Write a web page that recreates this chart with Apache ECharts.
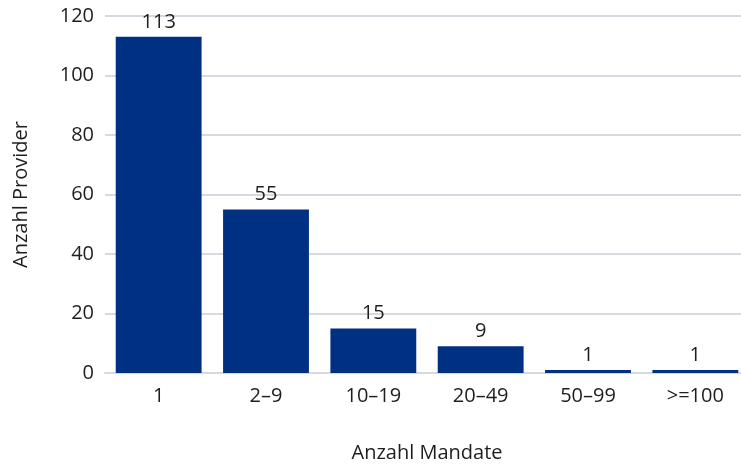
<!DOCTYPE html>
<html>
<head>
<meta charset="utf-8">
<script src="https://cdn.jsdelivr.net/npm/echarts@6/dist/echarts.min.js"></script>
<style>
  html, body { margin: 0; padding: 0; background: #fff; overflow: hidden; }
  #chart { width: 741px; height: 464px; }
</style>
</head>
<body>
<div id="chart"></div>
<script>
const categories = ['1', '2–9', '10–19', '20–49', '50–99', '>=100'];
const providerCounts = [113, 55, 15, 9, 1, 1];
const yTicks = { min: 0, max: 120, interval: 20 };

const font = '"Open Sans", "Noto Sans", sans-serif';
const textColor = '#1e1e1e';
const chart = echarts.init(document.getElementById('chart'));
chart.setOption({
  animation: false,
  grid: { left: 105, right: -8, top: 16, bottom: 91, outerBoundsMode: 'none', containLabel: false },
  xAxis: {
    type: 'category',
    data: categories,
    name: 'Anzahl Mandate',
    nameLocation: 'middle',
    nameGap: 70,
    nameTextStyle: { color: textColor, fontSize: 20, fontFamily: font },
    axisLine: { show: true, lineStyle: { color: '#d5d9e0', width: 2 } },
    axisTick: { show: false },
    axisLabel: { color: textColor, fontSize: 20, fontFamily: font, margin: 13 }
  },
  yAxis: {
    type: 'value',
    min: yTicks.min,
    max: yTicks.max,
    interval: yTicks.interval,
    name: 'Anzahl Provider',
    nameLocation: 'middle',
    nameGap: 74,
    nameTextStyle: { color: textColor, fontSize: 20, fontFamily: font },
    axisLine: { show: false },
    axisTick: { show: false },
    axisLabel: { color: textColor, fontSize: 20, fontFamily: font, margin: 11 },
    splitLine: { lineStyle: { color: '#d5d9e0', width: 2 } }
  },
  series: [{
    type: 'bar',
    data: providerCounts,
    barCategoryGap: '20%',
    itemStyle: { color: '#003082' },
    label: {
      show: true,
      position: 'top',
      distance: 5,
      color: textColor,
      fontSize: 20,
      fontFamily: font
    }
  }]
});
</script>
</body>
</html>
